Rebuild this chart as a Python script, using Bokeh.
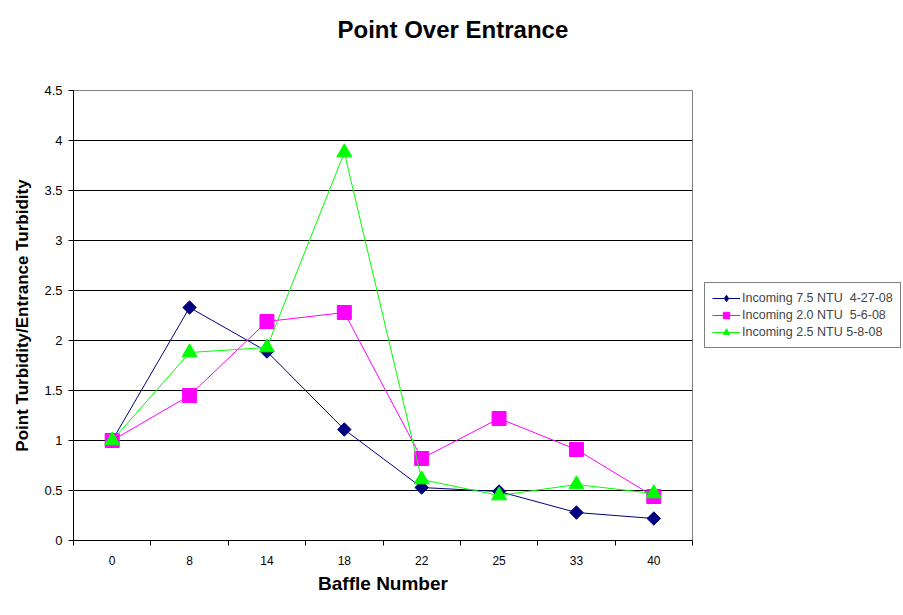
import math
from bokeh.plotting import figure
from bokeh.models import FixedTicker, Legend, LegendItem, Range1d, Title
from bokeh.embed import file_html
from bokeh.resources import INLINE

categories = ["0", "8", "14", "18", "22", "25", "33", "40"]
series_names = ["Incoming 7.5 NTU  4-27-08", "Incoming 2.0 NTU  5-6-08", "Incoming 2.5 NTU 5-8-08"]
s_75 = [1.0, 2.33, 1.89, 1.11, 0.53, 0.49, 0.28, 0.22]
s_20 = [1.0, 1.45, 2.19, 2.28, 0.82, 1.22, 0.91, 0.44]
s_25 = [1.0, 1.88, 1.93, 3.88, 0.61, 0.45, 0.56, 0.47]
y_ticks = [0, 0.5, 1, 1.5, 2, 2.5, 3, 3.5, 4, 4.5]
y_tick_labels = ["0", "0.5", "1", "1.5", "2", "2.5", "3", "3.5", "4", "4.5"]
title_text = "Point Over Entrance"

FONT = "Liberation Sans"
xs = list(range(len(categories)))

p = figure(frame_width=619, frame_height=450, output_backend="svg", toolbar_location=None,
           x_range=Range1d(-0.5, len(categories) - 0.5), y_range=Range1d(0, 4.5),
           min_border_left=73, min_border_right=5, min_border_top=0, min_border_bottom=60)

# main title (outermost), with a blank spacer title between it and the frame
p.title.text = title_text
p.title.text_font = FONT
p.title.text_font_size = "24px"
p.title.text_font_style = "bold"
p.title.text_color = "black"
p.title.align = "left"
p.title.offset = 264
p.title.vertical_align = "middle"
p.title.standoff = 29
p.add_layout(Title(text=" ", text_font_size="10px", standoff=19), "above")

p.background_fill_color = "white"
p.border_fill_color = "white"
p.outline_line_color = "#808080"
p.outline_line_width = 1

# x axis
p.xaxis.ticker = FixedTicker(ticks=xs, minor_ticks=[i - 0.5 for i in range(len(categories) + 1)])
p.xaxis.major_label_overrides = {i: c for i, c in enumerate(categories)}
p.xaxis.major_tick_out = 0
p.xaxis.major_tick_in = 0
p.xaxis.minor_tick_out = 5
p.xaxis.minor_tick_in = 0
p.xaxis.minor_tick_line_color = "black"
p.xaxis.axis_line_color = "black"
p.xaxis.major_label_text_font = FONT
p.xaxis.major_label_text_font_size = "12px"
p.xaxis.major_label_text_color = "black"
p.xaxis.major_label_standoff = 10
p.xaxis.axis_label = "Baffle Number"
p.xaxis.axis_label_text_font = FONT
p.xaxis.axis_label_text_font_size = "19px"
p.xaxis.axis_label_text_font_style = "bold"
p.xaxis.axis_label_text_color = "black"
p.xaxis.axis_label_standoff = 5
p.xgrid.grid_line_color = None

# y axis
p.yaxis.ticker = FixedTicker(ticks=y_ticks, minor_ticks=[])
p.yaxis.major_label_overrides = {t: l for t, l in zip(y_ticks, y_tick_labels)}
p.yaxis.major_tick_out = 5
p.yaxis.major_tick_in = 0
p.yaxis.major_tick_line_color = "black"
p.yaxis.axis_line_color = "black"
p.yaxis.major_label_text_font = FONT
p.yaxis.major_label_text_font_size = "13px"
p.yaxis.major_label_text_color = "black"
p.yaxis.major_label_standoff = 6
p.yaxis.axis_label = "Point Turbidity/Entrance Turbidity"
p.yaxis.axis_label_text_font = FONT
p.yaxis.axis_label_text_font_size = "17px"
p.yaxis.axis_label_text_font_style = "bold"
p.yaxis.axis_label_text_color = "black"
p.yaxis.axis_label_standoff = 9
p.ygrid.grid_line_color = "black"
p.ygrid.grid_line_width = 1

items = []
specs = [(s_75, "#000080", "square", 9.5, math.pi / 4, "diamond"),
         (s_20, "#FF00FF", "square", 14, 0, "square"),
         (s_25, "#00FF00", "triangle", 15, 0, "triangle")]
for name, (vals, col, mk, sz, ang, legend_mk) in zip(series_names, specs):
    ln = p.line(xs, vals, line_color=col, line_width=1)
    sc = p.scatter(xs, vals, marker=mk, size=sz, angle=ang, fill_color=col, line_color=col)
    # legend-only glyph (not drawn in the plot: NaN position)
    lg = p.scatter([math.nan], [math.nan], marker=legend_mk, size=sz, fill_color=col, line_color=col)
    items.append(LegendItem(label=name, renderers=[ln, lg]))

legend = Legend(items=items, location="center_left", border_line_color="black", border_line_width=1,
                label_text_font=FONT, label_text_font_size="12.5px", label_height=16, glyph_height=16,
                glyph_width=28, spacing=1, padding=7, margin=12, label_standoff=2,
                background_fill_color="white", background_fill_alpha=1)
p.add_layout(legend, "right")

open("out.html", "w").write(file_html(p, INLINE))
